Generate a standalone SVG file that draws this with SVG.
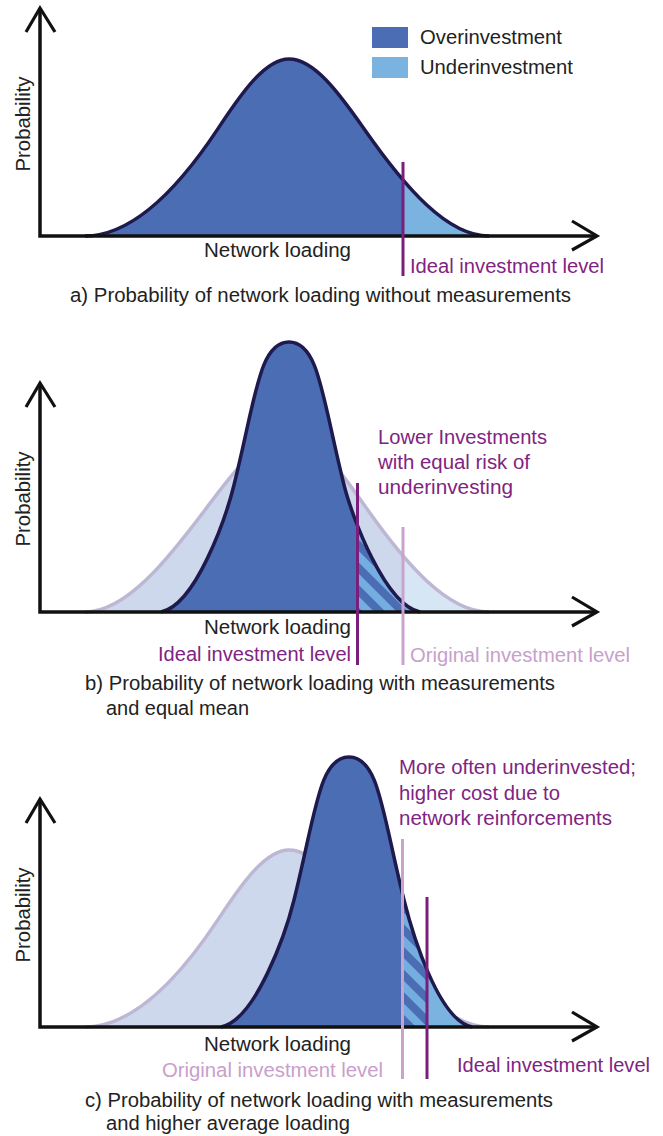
<svg xmlns="http://www.w3.org/2000/svg" width="663" height="1136" viewBox="0 0 663 1136">
<style>
  text { font-family: "Liberation Sans", Arial, sans-serif; font-size: 20px; fill: #222; }
  .pur { fill: #7f2482; }
  .lav { fill: #c8a0cb; }
  .axis { fill: none; stroke: #111; stroke-width: 3.5; stroke-linecap: butt; stroke-linejoin: miter; }
  .head { fill: none; stroke: #111; stroke-width: 3.2; stroke-linecap: butt; stroke-linejoin: miter; }
  .dstroke { fill: none; stroke: #1f1a4e; stroke-width: 3.5; }
  .lstroke { fill: none; stroke: #bdb7d4; stroke-width: 3.5; }
  .over { fill: #4b6db4; }
  .under { fill: #7bb3e0; }
  .lfill { fill: #cdd8ed; }
  .lfill2 { fill: #d7e6f4; }
  .ideal { stroke: #7a1e7b; stroke-width: 3; }
  .orig { stroke: #c9a3cd; stroke-width: 3; }
</style>
<defs>
  <pattern id="hatch" width="16" height="16" patternUnits="userSpaceOnUse" patternTransform="rotate(45)">
    <rect width="16" height="16" fill="#74ade0"/>
    <rect width="16" height="8" fill="#4b6db4"/>
  </pattern>
  <path id="curveA" d="M85,236 C129.3,236 173.7,195.6 218,128.65 C241.6,92.9 265.3,59 289,59 C314,59 339,92.9 364,128.65 C405.7,188.35 447.3,236 489,236"/>
  <path id="curveBw" d="M85,612 C126.3,612 167.7,560 209,504.65 C235.6,468.9 262.3,435 289,435 C314,435 339,468.9 364,504.65 C405.7,564.35 447.3,612 489,612"/>
  <path id="curveBn" d="M161,612 C196,605 226,517 234,485 C256,397 259,342 289,342 C319,342 322,397 344,485 C352,517 385,605 420,612"/>
  <path id="curveCw" d="M85,1027 C129.3,1027 173.7,986.6 218,919.65 C241.6,883.9 265.3,850 289,850 C314,850 339,883.9 364,919.65 C405.7,979.35 447.3,1027 489,1027"/>
  <path id="curveCn" d="M221,1027 C256,1020 286,932 294,900 C316,812 319,757 349,757 C379,757 382,812 404,900 C412,932 438,1020 472,1027"/>
  <clipPath id="clipA"><rect x="403" y="0" width="260" height="300"/></clipPath>
  <clipPath id="clipBw"><rect x="403" y="320" width="260" height="300"/></clipPath>
  <clipPath id="clipBn"><rect x="357" y="320" width="100" height="300"/></clipPath>
  <clipPath id="clipCh"><rect x="403" y="730" width="24" height="300"/></clipPath>
  <clipPath id="clipCu"><rect x="427" y="730" width="200" height="300"/></clipPath>
</defs>

<g id="legend">
  <rect x="372" y="27" width="36" height="21" class="over"/>
  <rect x="372" y="57" width="36" height="21" class="under"/>
  <text x="420" y="44" textLength="142" lengthAdjust="spacingAndGlyphs">Overinvestment</text>
  <text x="420" y="74" textLength="153" lengthAdjust="spacingAndGlyphs">Underinvestment</text>
</g>

<g id="panel-a">
  <use href="#curveA" class="over"/>
  <use href="#curveA" class="under" clip-path="url(#clipA)"/>
  <use href="#curveA" class="dstroke"/>
  <path class="axis" d="M40,8 V236 H597"/>
  <path class="head" d="M26,32 L40,8 L55,32"/>
  <path class="head" d="M572,221 L597,236 L572,250"/>
  <line class="ideal" x1="403" y1="162" x2="403" y2="276"/>
  <text transform="translate(30,124) rotate(-90)" text-anchor="middle" textLength="95" lengthAdjust="spacingAndGlyphs">Probability</text>
  <text x="204" y="257" textLength="147" lengthAdjust="spacingAndGlyphs">Network loading</text>
  <text class="pur" x="410" y="273" textLength="194" lengthAdjust="spacingAndGlyphs">Ideal investment level</text>
  <text x="70" y="302" textLength="501" lengthAdjust="spacingAndGlyphs">a) Probability of network loading without measurements</text>
</g>

<g id="panel-b">
  <use href="#curveBw" class="lfill"/>
  <use href="#curveBw" class="lfill2" clip-path="url(#clipBw)"/>
  <use href="#curveBw" class="lstroke"/>
  <use href="#curveBn" class="over"/>
  <use href="#curveBn" fill="url(#hatch)" clip-path="url(#clipBn)"/>
  <use href="#curveBn" class="dstroke"/>
  <path class="axis" d="M40,383 V612 H597"/>
  <path class="head" d="M26,407 L40,383 L55,407"/>
  <path class="head" d="M572,597 L597,612 L572,626"/>
  <line class="ideal" x1="357.5" y1="483" x2="357.5" y2="665"/>
  <line class="orig" x1="403" y1="527" x2="403" y2="665"/>
  <text transform="translate(30,499) rotate(-90)" text-anchor="middle" textLength="95" lengthAdjust="spacingAndGlyphs">Probability</text>
  <text class="pur" x="378" y="444" textLength="169" lengthAdjust="spacingAndGlyphs">Lower Investments</text>
  <text class="pur" x="378" y="469" textLength="152" lengthAdjust="spacingAndGlyphs">with equal risk of</text>
  <text class="pur" x="378" y="494" textLength="135" lengthAdjust="spacingAndGlyphs">underinvesting</text>
  <text x="204" y="634" textLength="147" lengthAdjust="spacingAndGlyphs">Network loading</text>
  <text class="pur" x="158" y="661" textLength="193" lengthAdjust="spacingAndGlyphs">Ideal investment level</text>
  <text class="lav" x="410" y="662" textLength="220" lengthAdjust="spacingAndGlyphs">Original investment level</text>
  <text x="85" y="690" textLength="470" lengthAdjust="spacingAndGlyphs">b) Probability of network loading with measurements</text>
  <text x="106" y="715" textLength="143" lengthAdjust="spacingAndGlyphs">and equal mean</text>
</g>

<g id="panel-c">
  <use href="#curveCw" class="lfill"/>
  <use href="#curveCw" class="lstroke"/>
  <use href="#curveCn" class="over"/>
  <use href="#curveCn" fill="url(#hatch)" clip-path="url(#clipCh)"/>
  <use href="#curveCn" class="under" clip-path="url(#clipCu)"/>
  <use href="#curveCn" class="dstroke"/>
  <path class="axis" d="M40,799 V1027 H597"/>
  <path class="head" d="M26,823 L40,799 L55,823"/>
  <path class="head" d="M572,1012 L597,1027 L572,1041"/>
  <line class="orig" x1="402.5" y1="839" x2="402.5" y2="1079"/>
  <line class="ideal" x1="427" y1="897" x2="427" y2="1079"/>
  <text transform="translate(30,915) rotate(-90)" text-anchor="middle" textLength="95" lengthAdjust="spacingAndGlyphs">Probability</text>
  <text class="pur" x="399" y="774" textLength="237" lengthAdjust="spacingAndGlyphs">More often underinvested;</text>
  <text class="pur" x="399" y="800" textLength="161" lengthAdjust="spacingAndGlyphs">higher cost due to</text>
  <text class="pur" x="399" y="825" textLength="213" lengthAdjust="spacingAndGlyphs">network reinforcements</text>
  <text x="204" y="1051" textLength="147" lengthAdjust="spacingAndGlyphs">Network loading</text>
  <text class="lav" x="162" y="1077" textLength="221" lengthAdjust="spacingAndGlyphs">Original investment level</text>
  <text class="pur" x="457" y="1072" textLength="193" lengthAdjust="spacingAndGlyphs">Ideal investment level</text>
  <text x="85" y="1107" textLength="468" lengthAdjust="spacingAndGlyphs">c) Probability of network loading with measurements</text>
  <text x="106" y="1130" textLength="244" lengthAdjust="spacingAndGlyphs">and higher average loading</text>
</g>
</svg>
